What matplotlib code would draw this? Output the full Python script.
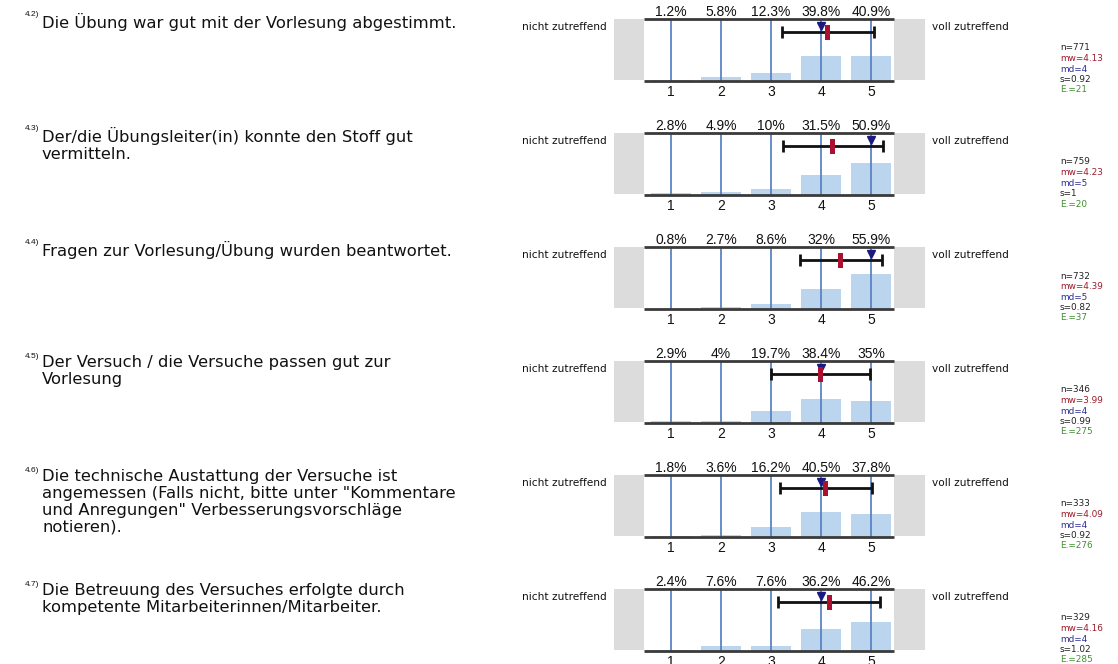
import matplotlib
matplotlib.use("Agg")
import matplotlib.pyplot as plt

plt.rcParams['font.family'] = ['Liberation Sans', 'DejaVu Sans']

# ---- data ----
numbers = ["4.2)", "4.3)", "4.4)", "4.5)", "4.6)", "4.7)"]
questions = [
    "Die Übung war gut mit der Vorlesung abgestimmt.",
    "Der/die Übungsleiter(in) konnte den Stoff gut\nvermitteln.",
    "Fragen zur Vorlesung/Übung wurden beantwortet.",
    "Der Versuch / die Versuche passen gut zur\nVorlesung",
    "Die technische Austattung der Versuche ist\nangemessen (Falls nicht, bitte unter \"Kommentare\nund Anregungen\" Verbesserungsvorschläge\nnotieren).",
    "Die Betreuung des Versuches erfolgte durch\nkompetente Mitarbeiterinnen/Mitarbeiter.",
]
scale = [1, 2, 3, 4, 5]
pct_q42 = [1.2, 5.8, 12.3, 39.8, 40.9]
pct_q43 = [2.8, 4.9, 10, 31.5, 50.9]
pct_q44 = [0.8, 2.7, 8.6, 32, 55.9]
pct_q45 = [2.9, 4, 19.7, 38.4, 35]
pct_q46 = [1.8, 3.6, 16.2, 40.5, 37.8]
pct_q47 = [2.4, 7.6, 7.6, 36.2, 46.2]
percentages = [pct_q42, pct_q43, pct_q44, pct_q45, pct_q46, pct_q47]
n_vals = [771, 759, 732, 346, 333, 329]
mw_vals = [4.13, 4.23, 4.39, 3.99, 4.09, 4.16]
md_vals = [4, 5, 5, 4, 4, 4]
s_vals = [0.92, 1, 0.82, 0.99, 0.92, 1.02]
e_vals = [21, 20, 37, 275, 276, 285]
left_label = "nicht zutreffend"
right_label = "voll zutreffend"

W, H = 1118, 664
fig = plt.figure(figsize=(W / 100, H / 100), dpi=100)

def fx(x):
    return x / W

def fy(y):
    return 1 - y / H

bar_color = "#bcd5ee"
vline_color = "#5b84c4"
frame_color = "#3a3a3a"
gray = "#dcdcdc"
txt = "#111111"

row_h = 114
x_left_px, x_right_px = 614, 925
xl, xr = -0.14, 6.08
inner_l, inner_r = 0.46, 5.46

for i in range(6):
    top = 19 + row_h * i
    bot = 81 + row_h * i
    ax = fig.add_axes([fx(x_left_px), fy(bot), fx(x_right_px) - fx(x_left_px), (bot - top) / H])
    ax.set_xlim(xl, xr)
    ax.set_ylim(0, 100)
    for sp in ax.spines.values():
        sp.set_visible(False)
    ax.set_yticks([])
    ax.set_xticks(scale)
    ax.set_xticklabels([str(v) for v in scale], fontsize=10, color=txt)
    ax.tick_params(axis='x', length=0, pad=3)

    ax.axvspan(xl, inner_l, ymin=0.02, ymax=1.0, color=gray, lw=0, zorder=0)
    ax.axvspan(inner_r, xr, ymin=0.02, ymax=1.0, color=gray, lw=0, zorder=0)

    ax.bar(scale, percentages[i], width=0.8, color=bar_color, zorder=1)
    ax.vlines(scale, 0, 100, color=vline_color, lw=1.3, zorder=2)
    ax.hlines([0, 100], inner_l, inner_r, color=frame_color, lw=2, zorder=3, clip_on=False)

    for x, p in zip(scale, percentages[i]):
        ax.text(x, 100, f"{p:g}%", ha='center', va='bottom', fontsize=10, color=txt,
                clip_on=False)

    # error bar: mean +/- s, mean marker, median marker
    m, s, md = mw_vals[i], s_vals[i], md_vals[i]
    ax.errorbar([m], [79], xerr=[s], fmt='none', ecolor='#111111', elinewidth=2,
                capsize=4, capthick=2, zorder=4)
    ax.bar([m], [24], bottom=66, width=0.1, color='#aa1030', zorder=6)
    ax.plot([md], [88], marker='v', markersize=5.5, color='#1a1a80', lw=0, zorder=5)

    fig.text(fx(522), fy(top + 8), left_label, ha='left', va='center', fontsize=7.6,
             color=txt, family='DejaVu Sans')
    fig.text(fx(932), fy(top + 8), right_label, ha='left', va='center', fontsize=7.6,
             color=txt, family='DejaVu Sans')

    fig.text(fx(25), fy(top - 4), numbers[i], ha='left', va='center', fontsize=6, color=txt)
    fig.text(fx(42), fy(top - 6), questions[i], ha='left', va='top', fontsize=11.8,
             color=txt, linespacing=1.16, family='DejaVu Sans')

    stats = [(f"n={n_vals[i]}", "#222222"), (f"mw={mw_vals[i]:g}", "#9b1c2c"),
             (f"md={md_vals[i]}", "#2d2d9a"), (f"s={s_vals[i]:g}", "#222222"),
             (f"E.={e_vals[i]}", "#3f8f2f")]
    for k, (t, c) in enumerate(stats):
        fig.text(fx(1060), fy(top + 29 + 10.5 * k), t, ha='left', va='center', fontsize=6.4,
                 color=c, family='DejaVu Sans')

fig.savefig("out.png", dpi=100)
